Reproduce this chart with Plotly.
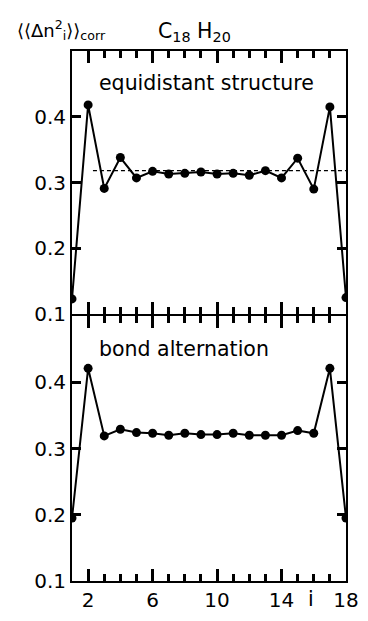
import plotly.graph_objects as go

sites = list(range(1, 19))
equidistant = [0.123, 0.418, 0.291, 0.338, 0.307, 0.317, 0.313, 0.314, 0.316,
               0.313, 0.314, 0.311, 0.318, 0.307, 0.337, 0.290, 0.415, 0.125]
alternation = [0.195, 0.421, 0.319, 0.329, 0.324, 0.323, 0.320, 0.323, 0.321,
               0.321, 0.323, 0.320, 0.320, 0.320, 0.327, 0.323, 0.421, 0.195]
ref_level = 0.318
ref_x = [2.3, 18]
ytickvals = [0.1, 0.2, 0.3, 0.4]
xtickvals = [2, 6, 10, 14, 18]
xticktext = [str(v) if v in xtickvals else "" for v in sites]

FONT = "DejaVu Sans"
FS = 20
fig = go.Figure()

line_style = dict(color="black", width=2)
marker_style = dict(color="black", size=9)

fig.add_trace(go.Scatter(x=ref_x, y=[ref_level, ref_level], mode="lines",
                         line=dict(color="black", width=1.2, dash="4px,3px"),
                         xaxis="x", yaxis="y", showlegend=False, hoverinfo="skip"))
fig.add_trace(go.Scatter(x=sites, y=equidistant, mode="lines+markers",
                         line=line_style, marker=marker_style,
                         xaxis="x", yaxis="y", showlegend=False))
fig.add_trace(go.Scatter(x=sites, y=alternation, mode="lines+markers",
                         line=line_style, marker=marker_style,
                         xaxis="x2", yaxis="y2", showlegend=False))
# invisible helper traces so the overlaid long-tick axes are drawn
fig.add_trace(go.Scatter(x=sites, y=equidistant, mode="markers", marker=dict(opacity=0),
                         xaxis="x3", yaxis="y", showlegend=False, hoverinfo="skip"))
fig.add_trace(go.Scatter(x=sites, y=alternation, mode="markers", marker=dict(opacity=0),
                         xaxis="x4", yaxis="y2", showlegend=False, hoverinfo="skip"))

base = dict(showline=True, linecolor="black", linewidth=2, mirror="ticks",
            ticks="inside", tickwidth=2.5, tickcolor="black", tickmode="array",
            showgrid=False, zeroline=False)
xshort = dict(**base, range=[1, 18], ticklen=7, tickvals=sites)
xlong = dict(**base, range=[1, 18], ticklen=12, tickvals=xtickvals,
             ticktext=["" for _ in xtickvals])
ycommon = dict(**base, range=[0.1, 0.5], ticklen=9, tickvals=ytickvals,
               tickfont=dict(family=FONT, size=FS, color="black"))

fig.update_layout(
    width=368, height=621,
    margin=dict(l=72, r=9, t=51, b=34),
    paper_bgcolor="white", plot_bgcolor="white",
    xaxis=dict(**xshort, anchor="y", ticktext=["" for _ in sites]),
    xaxis2=dict(**xshort, anchor="y2", ticktext=xticktext, ticklabeloverflow="allow",
                tickfont=dict(family=FONT, size=FS, color="black")),
    xaxis3=dict(**xlong, anchor="y", overlaying="x"),
    xaxis4=dict(**xlong, anchor="y2", overlaying="x2"),
    yaxis=dict(**ycommon, domain=[0.5037, 1], anchor="x"),
    yaxis2=dict(**ycommon, domain=[0, 0.5], anchor="x2"),
)

ann_font = dict(family=FONT, size=20.5, color="black")
fig.add_annotation(text="⟨⟨Δn<sup>2</sup><sub>i</sub>⟩⟩<sub>corr</sub>", xref="paper", yref="paper",
                   x=-0.209, y=1.039, xanchor="left", yanchor="middle", showarrow=False,
                   font=dict(family=FONT, size=18, color="black"))
fig.add_annotation(text="C<sub>18</sub> H<sub>20</sub>", xref="paper", yref="paper",
                   x=0.446, y=1.035, xanchor="center", yanchor="middle", showarrow=False,
                   font=ann_font)
fig.add_annotation(text="equidistant structure", xref="paper", yref="paper",
                   x=0.491, y=0.940, xanchor="center", yanchor="middle", showarrow=False,
                   font=ann_font)
fig.add_annotation(text="bond alternation", xref="paper", yref="paper",
                   x=0.408, y=0.438, xanchor="center", yanchor="middle", showarrow=False,
                   font=ann_font)
fig.add_annotation(text="i", xref="paper", yref="paper",
                   x=0.871, y=-0.034, xanchor="center", yanchor="middle", showarrow=False,
                   font=ann_font)

fig.write_html("out.html")
